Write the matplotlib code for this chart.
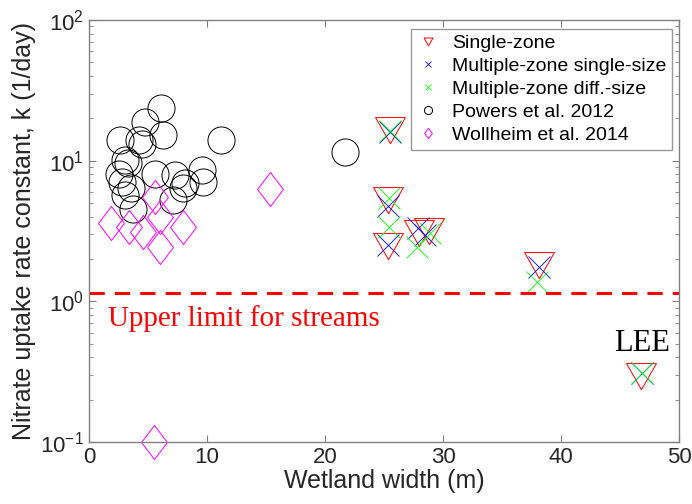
import matplotlib
matplotlib.use('Agg')
import matplotlib.pyplot as plt
import numpy as np
from matplotlib.path import Path

plt.rcParams['font.family'] = ['Liberation Sans', 'DejaVu Sans']
plt.rcParams['axes.unicode_minus'] = False

# Single-zone model
single_x = [25.5, 25.3, 25.3, 28.0, 28.8, 38.1, 46.8]
single_k = [16.0, 5.1, 2.4, 2.95, 3.05, 1.76, 0.285]
# Multiple-zone, single-size
multi_ss_x = [25.5, 25.3, 25.3, 27.9, 28.5, 38.1, 46.9]
multi_ss_k = [16.0, 4.8, 2.5, 3.3, 2.95, 1.76, 0.31]
# Multiple-zone, different sizes
multi_ds_x = [25.5, 25.4, 25.4, 27.8, 28.9, 38.0, 46.9]
multi_ds_k = [16.3, 5.4, 3.4, 2.45, 3.05, 1.38, 0.31]
# Powers et al. 2012
powers_x = [6.1, 4.75, 6.3, 2.6, 4.2, 4.5, 11.2, 3.05, 3.3, 2.5, 5.6, 7.3,
            9.55, 9.7, 8.1, 2.8, 3.6, 8.0, 3.05, 7.15, 3.75, 21.7]
powers_k = [23.5, 18.9, 15.2, 14.0, 14.0, 13.2, 14.0, 10.1, 9.6, 8.1, 8.1, 7.9,
            8.6, 7.1, 6.9, 7.1, 6.4, 6.4, 5.7, 5.25, 4.5, 11.5]
# Wollheim et al. 2014
wollheim_x = [1.9, 3.4, 4.6, 5.6, 6.0, 6.0, 8.0, 15.3, 5.5]
wollheim_k = [3.6, 3.4, 3.1, 5.5, 4.0, 2.45, 3.4, 6.3, 0.1]

stream_limit = 1.15

tri = Path([(-1, 1), (1, 1), (0, -0.75), (-1, 1)])
dia = Path([(0, 1), (0.76, 0), (0, -1), (-0.76, 0), (0, 1)])

fig = plt.figure(figsize=(6.92, 5.04), dpi=100)
ax = fig.add_axes([89 / 692, 1 - 442 / 504, 590 / 692, 422 / 504])

ax.plot(single_x, single_k, ls='none', marker=tri, ms=21.5, mfc='none',
        mec='#ff0000', mew=0.7, label='Single-zone')
ax.plot(multi_ss_x, multi_ss_k, ls='none', marker='x', ms=16, mec='#0000ff',
        mew=0.6, label='Multiple-zone single-size')
ax.plot(multi_ds_x, multi_ds_k, ls='none', marker='x', ms=16, mec='#00ff00',
        mew=0.6, label='Multiple-zone diff.-size')
ax.plot(powers_x, powers_k, ls='none', marker='o', ms=19.5, mfc='none',
        mec='k', mew=0.7, label='Powers et al. 2012')
ax.plot(wollheim_x, wollheim_k, ls='none', marker=dia, ms=24.5, mfc='none',
        mec='#ff00ff', mew=0.7, label='Wollheim et al. 2014', clip_on=False)

ax.plot([0, 50], [stream_limit, stream_limit], color='#ff0000', lw=2.2,
        dashes=(5, 3.3))
ax.text(1.6, 0.76, 'Upper limit for streams', color='#ff0000', fontsize=21,
        family='Liberation Serif', va='center', ha='left')
ax.text(46.9, 0.5, 'LEE', color='k', fontsize=22, family='Liberation Serif',
        va='center', ha='center')

ax.set_yscale('log')
ax.set_xlim(0, 50)
ax.set_ylim(0.1, 100)
ax.set_xticks([0, 10, 20, 30, 40, 50])
ax.set_xlabel('Wetland width (m)', fontsize=18, color='#262626', labelpad=1)
ax.set_ylabel('Nitrate uptake rate constant, k (1/day)', fontsize=18,
              color='#262626', labelpad=3)
ax.tick_params(which='both', direction='in', top=True, right=True,
               color='#808080', labelcolor='#262626', labelsize=16)
ax.tick_params(which='major', length=5)
ax.tick_params(which='minor', length=3)
for s in ax.spines.values():
    s.set_color('#808080')
    s.set_linewidth(1.0)

leg = ax.legend(loc='upper right', bbox_to_anchor=(672 / 692, 1 - 29 / 504),
                bbox_transform=fig.transFigure, borderaxespad=0, fontsize=14,
                fancybox=False, markerscale=0.3, handletextpad=0.6,
                labelspacing=0.27, borderpad=0.3, handlelength=1.2)
leg.get_frame().set_edgecolor('#808080')
leg.get_frame().set_linewidth(1.0)

fig.savefig('out.png', dpi=100)
